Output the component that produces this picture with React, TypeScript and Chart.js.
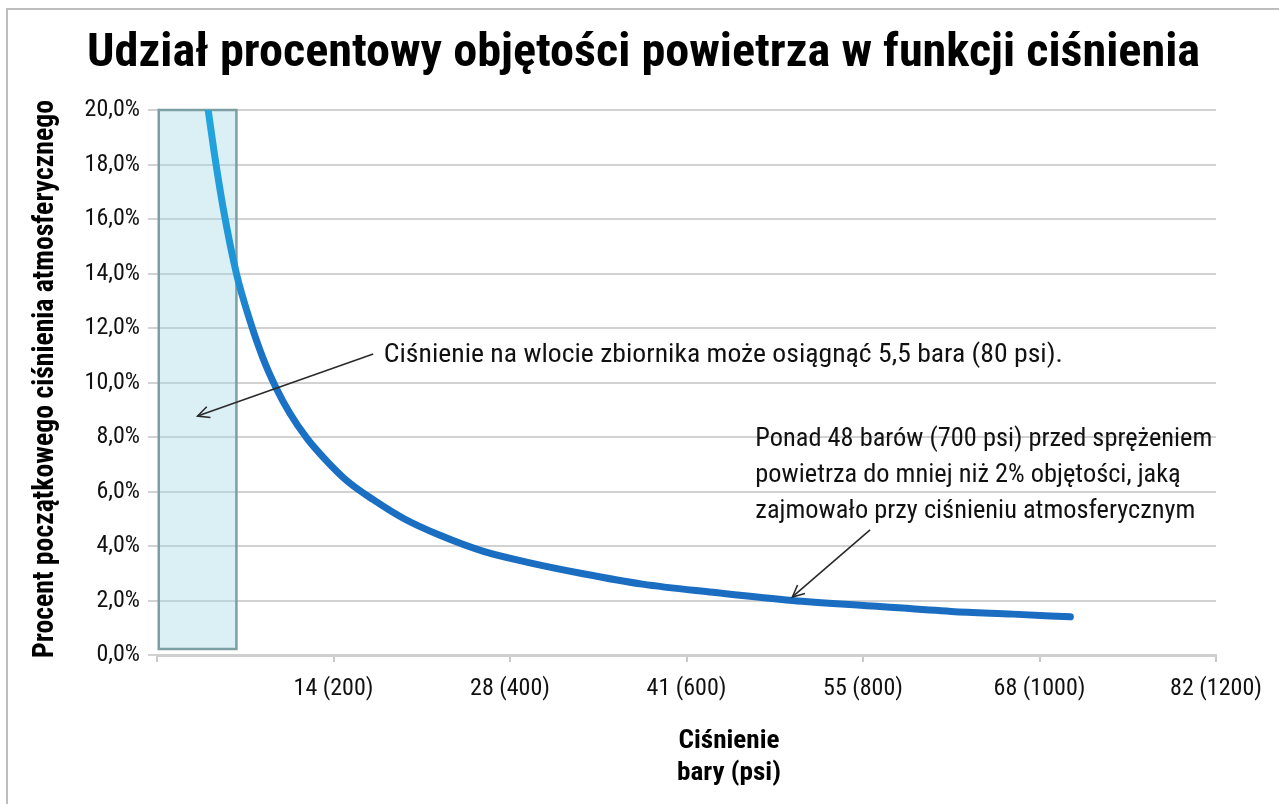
import React, { useEffect, useRef } from "react";
import { Chart, registerables } from "chart.js";

Chart.register(...registerables);

// ---------- data ----------
const chartTitle = "Udział procentowy objętości powietrza w funkcji ciśnienia";
const yAxisTitle = "Procent początkowego ciśnienia atmosferycznego";
const xAxisTitleLines = ["Ciśnienie", "bary (psi)"];

// pressure in psi (x) and percent of initial volume (y)
const pressurePsi = [58, 65, 75, 90, 105, 120, 135, 150, 170, 190, 215, 245, 280, 320, 370, 420, 480, 550, 630, 720, 810, 900, 970, 1035];
const volumePct = [20.0, 18.4, 16.4, 14.0, 12.3, 10.9, 9.8, 8.9, 7.95, 7.2, 6.4, 5.7, 5.0, 4.4, 3.8, 3.4, 3.0, 2.6, 2.3, 2.0, 1.8, 1.6, 1.5, 1.4];

const xTickValues = [0, 200, 400, 600, 800, 1000, 1200];
const xTickLabels = ["", "14 (200)", "28 (400)", "41 (600)", "55 (800)", "68 (1000)", "82 (1200)"];
const yTickValues = [0, 2, 4, 6, 8, 10, 12, 14, 16, 18, 20];
const yTickLabels = ["0,0%", "2,0%", "4,0%", "6,0%", "8,0%", "10,0%", "12,0%", "14,0%", "16,0%", "18,0%", "20,0%"];

// shaded inlet-pressure band
const inletBandPsi = [2, 90];
const inletBandPct = [0.22, 20];

// annotations
const noteLines = [
  ["Ciśnienie na wlocie zbiornika może osiągnąć 5,5 bara (80 psi)."],
  ["Ponad 48 barów (700 psi) przed sprężeniem", "powietrza do mniej niż 2% objętości, jaką", "zajmowało przy ciśnieniu atmosferycznym"],
];
const noteAnchorPsi = [257, 678];
const noteAnchorPct = [11.0, 7.9];
const arrowTailPsi = [245, 808];
const arrowTailPct = [11.05, 4.59];
const arrowHeadPsi = [46, 720];
const arrowHeadPct = [8.77, 2.13];

// ---------- styles ----------
const FONT = "'Liberation Sans Narrow', 'Arial Narrow', 'Roboto Condensed', 'DejaVu Sans Condensed', sans-serif";
const W = 1279;
const H = 804;

// draw text stretched/compressed horizontally so its first-line width matches a target
function fitScale(ctx: CanvasRenderingContext2D, text: string, target: number) {
  const w = ctx.measureText(text).width;
  return w > 0 ? target / w : 1;
}
function drawScaled(ctx: CanvasRenderingContext2D, text: string, x: number, y: number, sx: number) {
  ctx.save();
  ctx.translate(x, y);
  ctx.scale(sx, 1);
  ctx.fillText(text, 0, 0);
  ctx.restore();
}

const noteWidths = [679, 457];

const decorPlugin = {
  id: "decor",
  beforeDraw(chart: any) {
    const ctx = chart.ctx;
    ctx.save();
    ctx.fillStyle = "#ffffff";
    ctx.fillRect(0, 0, W, H);
    ctx.strokeStyle = "#bdbdbd";
    ctx.lineWidth = 2;
    ctx.beginPath();
    ctx.moveTo(7, H);
    ctx.lineTo(7, 9);
    ctx.lineTo(W, 9);
    ctx.stroke();
    ctx.restore();
  },
  beforeDatasetsDraw(chart: any) {
    const ctx = chart.ctx;
    const xs = chart.scales.x;
    const ys = chart.scales.y;
    const x0 = xs.getPixelForValue(inletBandPsi[0]);
    const x1 = xs.getPixelForValue(inletBandPsi[1]);
    const y0 = ys.getPixelForValue(inletBandPct[0]);
    const y1 = ys.getPixelForValue(inletBandPct[1]);
    ctx.save();
    ctx.fillStyle = "rgba(160, 216, 228, 0.38)";
    ctx.fillRect(x0, y1, x1 - x0, y0 - y1);
    ctx.strokeStyle = "#7d9ea2";
    ctx.lineWidth = 2.5;
    ctx.strokeRect(x0, y1, x1 - x0, y0 - y1);
    ctx.restore();
  },
  afterDatasetsDraw(chart: any) {
    const ctx = chart.ctx;
    const xs = chart.scales.x;
    const ys = chart.scales.y;
    ctx.save();
    // arrows
    for (let i = 0; i < arrowTailPsi.length; i++) {
      const tx = xs.getPixelForValue(arrowTailPsi[i]);
      const ty = ys.getPixelForValue(arrowTailPct[i]);
      const hx = xs.getPixelForValue(arrowHeadPsi[i]);
      const hy = ys.getPixelForValue(arrowHeadPct[i]);
      ctx.strokeStyle = "#2a2a2a";
      ctx.lineWidth = 1.6;
      ctx.beginPath();
      ctx.moveTo(tx, ty);
      ctx.lineTo(hx, hy);
      ctx.stroke();
      const ang = Math.atan2(hy - ty, hx - tx);
      const len = 13;
      ctx.beginPath();
      ctx.moveTo(hx - len * Math.cos(ang - 0.45), hy - len * Math.sin(ang - 0.45));
      ctx.lineTo(hx, hy);
      ctx.lineTo(hx - len * Math.cos(ang + 0.45), hy - len * Math.sin(ang + 0.45));
      ctx.stroke();
    }
    // notes
    ctx.fillStyle = "#111111";
    ctx.font = `25px ${FONT}`;
    ctx.textAlign = "left";
    ctx.textBaseline = "middle";
    for (let i = 0; i < noteLines.length; i++) {
      const x = xs.getPixelForValue(noteAnchorPsi[i]);
      const y = ys.getPixelForValue(noteAnchorPct[i]);
      const sx = fitScale(ctx, noteLines[i][0], noteWidths[i]);
      noteLines[i].forEach((line, k) => {
        drawScaled(ctx, line, x, y + k * 36, sx);
      });
    }
    ctx.restore();
  },
  afterDraw(chart: any) {
    const ctx = chart.ctx;
    ctx.save();
    ctx.fillStyle = "#000000";
    // title
    ctx.font = `bold 47px ${FONT}`;
    ctx.textAlign = "center";
    ctx.textBaseline = "alphabetic";
    drawScaled(ctx, chartTitle, 643.5, 66, fitScale(ctx, chartTitle, 1113));
    // y axis title
    ctx.save();
    ctx.translate(53, 379);
    ctx.rotate(-Math.PI / 2);
    ctx.font = `bold 29px ${FONT}`;
    drawScaled(ctx, yAxisTitle, 0, 0, fitScale(ctx, yAxisTitle, 558));
    ctx.restore();
    // x axis title
    ctx.font = `bold 26px ${FONT}`;
    ctx.textBaseline = "middle";
    const sx = fitScale(ctx, xAxisTitleLines[0], 101);
    xAxisTitleLines.forEach((line, k) => {
      drawScaled(ctx, line, 729, 741 + k * 32, sx);
    });
    ctx.restore();
  },
};

export default function App() {
  const ref = useRef<HTMLCanvasElement | null>(null);

  useEffect(() => {
    if (!ref.current) return;
    const chart = new Chart(ref.current, {
      type: "line",
      data: {
        datasets: [
          {
            data: pressurePsi.map((p, i) => ({ x: p, y: volumePct[i] })),
            borderColor: (c: any) => {
              const area = c.chart.chartArea;
              if (!area) return "#1a6fc4";
              const g = c.chart.ctx.createLinearGradient(0, area.top, 0, area.bottom);
              g.addColorStop(0, "#22a6df");
              g.addColorStop(0.3, "#1e93d6");
              g.addColorStop(0.42, "#1a72c6");
              g.addColorStop(1, "#1a6cc0");
              return g;
            },
            borderWidth: 7,
            borderCapStyle: "round",
            pointRadius: 0,
            fill: false,
            cubicInterpolationMode: "monotone",
          } as any,
        ],
      },
      options: {
        animation: false,
        responsive: false,
        devicePixelRatio: 1,
        events: [],
        layout: { padding: { left: 0, top: 110, right: 63, bottom: 0 } },
        plugins: {
          legend: { display: false },
          title: { display: false },
          tooltip: { enabled: false },
        },
        scales: {
          x: {
            type: "linear",
            min: 0,
            max: 1200,
            afterFit: (s: any) => {
              s.height = H - 655;
            },
            afterBuildTicks: (s: any) => {
              s.ticks = xTickValues.map((v) => ({ value: v }));
            },
            ticks: {
              autoSkip: false,
              maxRotation: 0,
              padding: 13,
              color: "#111111",
              font: { family: FONT, size: 24 },
              callback: (v: any) => {
                const i = xTickValues.indexOf(Number(v));
                return i >= 0 ? xTickLabels[i] : "";
              },
            },
            grid: { drawOnChartArea: false, drawTicks: true, tickLength: 7, color: "#c8c8c8", lineWidth: 2 },
            border: { display: true, color: "#cfcfcf", width: 3 },
          },
          y: {
            type: "linear",
            min: 0,
            max: 20,
            afterFit: (s: any) => {
              s.width = 157;
            },
            afterBuildTicks: (s: any) => {
              s.ticks = yTickValues.map((v) => ({ value: v }));
            },
            ticks: {
              autoSkip: false,
              padding: 8,
              color: "#111111",
              font: { family: FONT, size: 24 },
              callback: (v: any) => {
                const i = yTickValues.indexOf(Number(v));
                return i >= 0 ? yTickLabels[i] : "";
              },
            },
            grid: { color: "#d2d2d2", lineWidth: 2, tickLength: 9 },
            border: { display: false },
          },
        },
      },
      plugins: [decorPlugin],
    });
    return () => chart.destroy();
  }, []);

  return (
    <div style={{ position: "fixed", left: 0, top: 0, width: W, height: H, background: "#fff" }}>
      <canvas ref={ref} width={W} height={H} style={{ display: "block", width: W, height: H }} />
    </div>
  );
}
